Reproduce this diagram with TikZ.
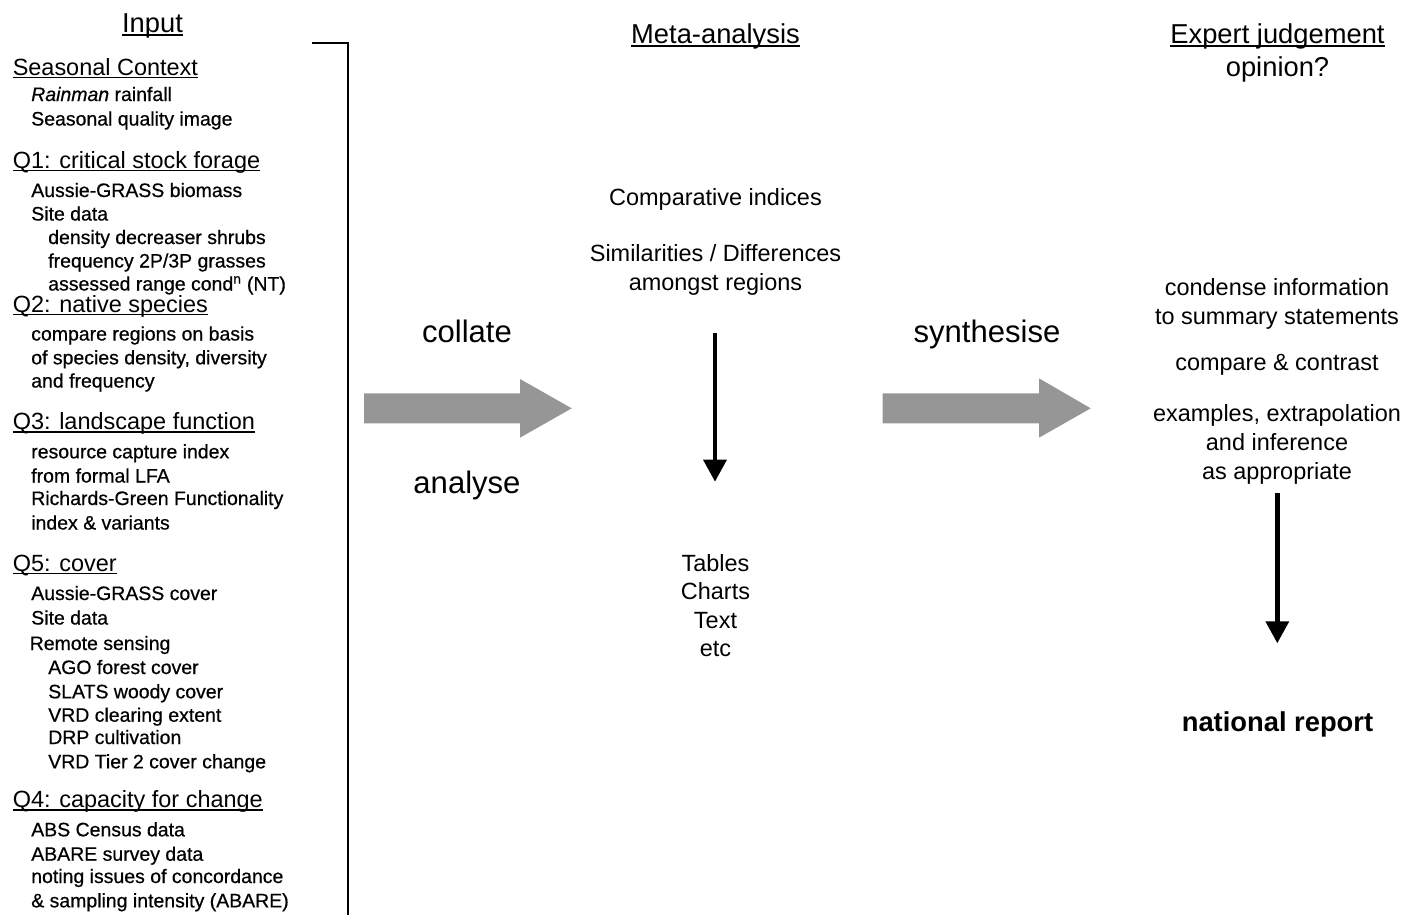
\documentclass[tikz,border=0pt]{standalone}
\usepackage{fontspec}
\setmainfont{Liberation Sans}
\newfontfamily\bodyfont[FakeBold=0.6]{Liberation Sans}
\usetikzlibrary{arrows.meta}
\definecolor{arrowgray}{RGB}{150,150,150}
\newcommand\myul[1]{\setbox0\hbox{#1}\rlap{\rule[-0.14em]{\wd0}{0.075em}}\box0}
\tikzset{
  body/.style={anchor=base west, inner sep=0pt, font=\bodyfont\fontsize{14.6}{17}\selectfont},
  lhead/.style={anchor=base west, inner sep=0pt, font=\fontsize{17.6}{21}\selectfont},
  title/.style={anchor=base, inner sep=0pt, font=\fontsize{20.5}{24}\selectfont},
  mtext/.style={anchor=base, inner sep=0pt, font=\fontsize{17.6}{21}\selectfont},
  verb/.style={anchor=base, inner sep=0pt, font=\fontsize{23.3}{28}\selectfont},
  bigarrow/.style={fill=arrowgray},
  flow/.style={line width=3.4pt, -{Triangle[length=16.5pt,width=17pt]}},
  bracket/.style={line width=1.5pt},
}
\begin{document}
\begin{tikzpicture}[x=0.75pt,y=-0.75pt]
\useasboundingbox (0,0) rectangle (1405,915);

% ---- Input column ----
\node[title] (input) at (152.5,32.3) {\myul{Input}};
\node[lhead] (seas) at (12.5,75) {\myul{Seasonal Context}};
\node[body] (rain) at (31,101) {\textit{Rainman} rainfall};
\node[body] (sqi) at (31,125.5) {Seasonal quality image};
\node[lhead] (q1) at (12.5,168) {\myul{Q1: critical stock forage}};
\node[body] (ag1) at (31,197) {Aussie-GRASS biomass};
\node[body] (site1) at (31,220.5) {Site data};
\node[body] (dens) at (48,244) {density decreaser shrubs};
\node[body] (freq) at (48,267.5) {frequency 2P/3P grasses};
\node[body] (arc) at (48,290.5) {assessed range cond\textsuperscript{n} (NT)};
\node[lhead] (q2) at (12.5,312) {\myul{Q2: native species}};
\node[body] (cmp) at (31,340.5) {compare regions on basis};
\node[body] (ofsp) at (31,364.3) {of species density, diversity};
\node[body] (andf) at (31,387.5) {and frequency};
\node[lhead] (q3) at (12.5,429.3) {\myul{Q3: landscape function}};
\node[body] (rci) at (31,458.3) {resource capture index};
\node[body] (lfa) at (31,482.5) {from formal LFA};
\node[body] (rg) at (31,505) {Richards-Green Functionality};
\node[body] (idx) at (31,529.5) {index \& variants};
\node[lhead] (q5) at (12.5,571) {\myul{Q5: cover}};
\node[body] (ag2) at (31,600) {Aussie-GRASS cover};
\node[body] (site2) at (31,624.5) {Site data};
\node[body] (rs) at (29.5,650) {Remote sensing};
\node[body] (ago) at (48,674) {AGO forest cover};
\node[body] (slats) at (48,698.3) {SLATS woody cover};
\node[body] (vrd1) at (48,721.7) {VRD clearing extent};
\node[body] (drp) at (48,744) {DRP cultivation};
\node[body] (vrd2) at (48,768.3) {VRD Tier 2 cover change};
\node[lhead] (q4) at (12.5,807.3) {\myul{Q4: capacity for change}};
\node[body] (abs) at (31,836.3) {ABS Census data};
\node[body] (abare) at (31,860.7) {ABARE survey data};
\node[body] (noting) at (31,883) {noting issues of concordance};
\node[body] (samp) at (31,907.3) {\& sampling intensity (ABARE)};

% bracket
\coordinate (bt) at (312,43.3);
\coordinate (bc) at (347.5,43.3);
\coordinate (bb) at (347.5,915);
\draw[bracket] (bt) -- (bc) -- (bb);

% ---- verbs and big arrows ----
\node[verb] (collate) at (467,342.5) {collate};
\node[verb] (analyse) at (467,493.5) {analyse};
\node[verb] (synth) at (987,342.5) {synthesise};
\fill[bigarrow] (364,393.3) -- (520,393.3) -- (520,379) -- (571.7,408.3) -- (520,437.7) -- (520,423.3) -- (364,423.3) -- cycle;
\fill[bigarrow] (882.7,393.3) -- (1039,393.3) -- (1039,378.3) -- (1090.7,408.3) -- (1039,437.7) -- (1039,423.3) -- (882.7,423.3) -- cycle;

% ---- Meta-analysis column ----
\node[title] (meta) at (715.5,43.3) {\myul{Meta-analysis}};
\node[mtext] (ci) at (715.5,205) {Comparative indices};
\node[mtext] (sd) at (715.5,261.7) {Similarities / Differences};
\node[mtext] (amr) at (715.5,290.7) {amongst regions};
\node[mtext] (tab) at (715.5,571) {Tables};
\node[mtext] (cha) at (715.5,599.5) {Charts};
\node[mtext] (txt) at (715.5,628) {Text};
\node[mtext] (etc) at (715.5,656.5) {etc};
\coordinate (a1s) at (715,333.3);
\coordinate (a1e) at (715,481.7);
\draw[flow] (a1s) -- (a1e);

% ---- Expert judgement column ----
\node[title] (expert) at (1277.5,43.3) {\myul{Expert judgement}};
\node[title] (opinion) at (1277.5,76.5) {opinion?};
\node[mtext] (cond) at (1277,295.3) {condense information};
\node[mtext] (summ) at (1277,324.7) {to summary statements};
\node[mtext] (cc) at (1277,370) {compare \& contrast};
\node[mtext] (ex) at (1277,421.7) {examples, extrapolation};
\node[mtext] (inf) at (1277,450) {and inference};
\node[mtext] (appr) at (1277,479.5) {as appropriate};
\node[title] (nat) at (1277.5,731.5) {\bfseries national report};
\coordinate (a2s) at (1277.3,492.7);
\coordinate (a2e) at (1277.3,643.3);
\draw[flow] (a2s) -- (a2e);
\end{tikzpicture}
\end{document}
